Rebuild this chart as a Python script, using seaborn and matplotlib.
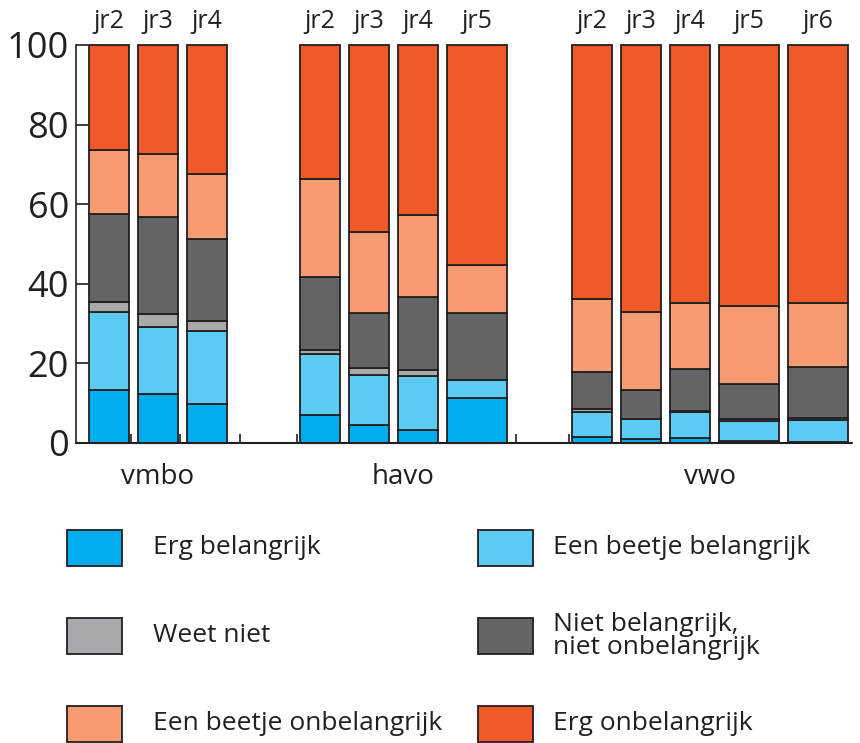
import numpy as np
import matplotlib.pyplot as plt
import matplotlib.patches as mpatches
import seaborn as sns

# --- data (percent per answer, stacked bottom -> top) ---
groups = ['vmbo', 'havo', 'vwo']
years = {
    'vmbo': ['jr2', 'jr3', 'jr4'],
    'havo': ['jr2', 'jr3', 'jr4', 'jr5'],
    'vwo': ['jr2', 'jr3', 'jr4', 'jr5', 'jr6'],
}
categories = ['Erg belangrijk', 'Een beetje belangrijk', 'Weet niet',
              'Niet belangrijk,\nniet onbelangrijk', 'Een beetje onbelangrijk',
              'Erg onbelangrijk']

erg_belangrijk = [13.4, 12.4, 9.8, 7.0, 4.4, 3.2, 11.3, 1.5, 1.0, 1.3, 0.6, 0.2]
beetje_belangrijk = [19.6, 16.8, 18.4, 15.3, 12.6, 13.6, 4.5, 6.3, 5.0, 6.5, 4.9, 5.5]
weet_niet = [2.5, 3.2, 2.5, 1.0, 1.9, 1.5, 0.0, 0.7, 0.1, 0.3, 0.6, 0.6]
neutraal = [22.0, 24.3, 20.6, 18.4, 13.8, 18.4, 16.8, 9.4, 7.3, 10.4, 8.8, 12.8]
beetje_onbelangrijk = [16.2, 15.9, 16.4, 24.7, 20.4, 20.5, 12.1, 18.3, 19.6, 16.7, 19.5, 16.2]
erg_onbelangrijk = [26.3, 27.4, 32.3, 33.6, 46.9, 42.8, 55.3, 63.8, 67.0, 64.8, 65.6, 64.7]

series = [erg_belangrijk, beetje_belangrijk, weet_niet, neutraal,
          beetje_onbelangrijk, erg_onbelangrijk]
colors = ['#00aeef', '#5bcbf5', '#a7a9ac', '#636466', '#f69b71', '#f05a28']

# --- layout (x in pixel-like units) ---
group_start = {'vmbo': 89, 'havo': 300, 'vwo': 572}
wide_bars = {('havo', 'jr5'), ('vwo', 'jr5'), ('vwo', 'jr6')}
gap = 9

x_left, widths, bar_labels, group_centers = [], [], [], []
for g in groups:
    pos = group_start[g]
    first = pos
    for yr in years[g]:
        w = 60 if (g, yr) in wide_bars else 40
        x_left.append(pos)
        widths.append(w)
        bar_labels.append(yr)
        pos += w + gap
    group_centers.append((first + pos - gap) / 2)
x_left = np.array(x_left, dtype=float)
widths = np.array(widths, dtype=float)
x_center = x_left + widths / 2

sns.set_theme(style='ticks')
plt.rcParams['font.family'] = ['Open Sans', 'DejaVu Sans']
ink = '#231f20'

W, H = 860, 743
fig = plt.figure(figsize=(W / 100, H / 100), dpi=100)
ax = fig.add_axes([76 / W, (H - 443) / H, (852 - 76) / W, (443 - 45) / H])

bottom = np.zeros(len(x_center))
for vals, col in zip(series, colors):
    vals = np.array(vals)
    ax.bar(x_center, vals, width=widths, bottom=bottom, color=col,
           edgecolor=ink, linewidth=1.3, clip_on=False, zorder=3)
    bottom += vals

ax.set_xlim(76, 852)
ax.set_ylim(0, 100)
ax.set_yticks([0, 20, 40, 60, 80, 100])
ax.tick_params(axis='y', direction='in', length=8.6, width=1.2, color=ink,
               labelsize=26, labelcolor=ink, pad=5)
ax.set_xticks([])
sns.despine(ax=ax, top=True, right=True, bottom=True)
ax.spines['left'].set_color(ink)
ax.spines['left'].set_linewidth(1.2)

# baseline with small marks
ax.axhline(0, color=ink, lw=1.5, zorder=4, clip_on=False)
marks = [x_left[0] + widths[0] + 2, x_left[1] + widths[1] + 2,
         x_left[2] + widths[2] + 13, x_left[3] - 3,
         x_left[6] + widths[6] + 9, x_left[7] - 3]
ax.vlines(marks, 0, 2.2, color=ink, lw=1.2, zorder=4)

for xc, lab in zip(x_center, bar_labels):
    ax.text(xc, 106, lab, ha='center', va='center', fontsize=18,
            color=ink, clip_on=False)
for xc, g in zip(group_centers, groups):
    ax.text(xc, -8.5, g, ha='center', va='center', fontsize=20,
            color=ink, clip_on=False)

# legend, two columns drawn by hand
legend_order = [0, 2, 4, 1, 3, 5]
col_x = [(67, 153), (478, 553)]
row_top = [530, 618, 706]
for k, idx in enumerate(legend_order):
    hx, tx = col_x[k // 3]
    top = row_top[k % 3]
    rect = mpatches.Rectangle((hx / W, (H - top - 36) / H), 55 / W, 36 / H,
                              transform=fig.transFigure, facecolor=colors[idx],
                              edgecolor=ink, linewidth=1.3)
    fig.add_artist(rect)
    fig.text(tx / W, (H - top - 18) / H, categories[idx], ha='left',
             va='center', fontsize=19, color=ink, linespacing=0.85)

fig.savefig('out.png', dpi=100)
